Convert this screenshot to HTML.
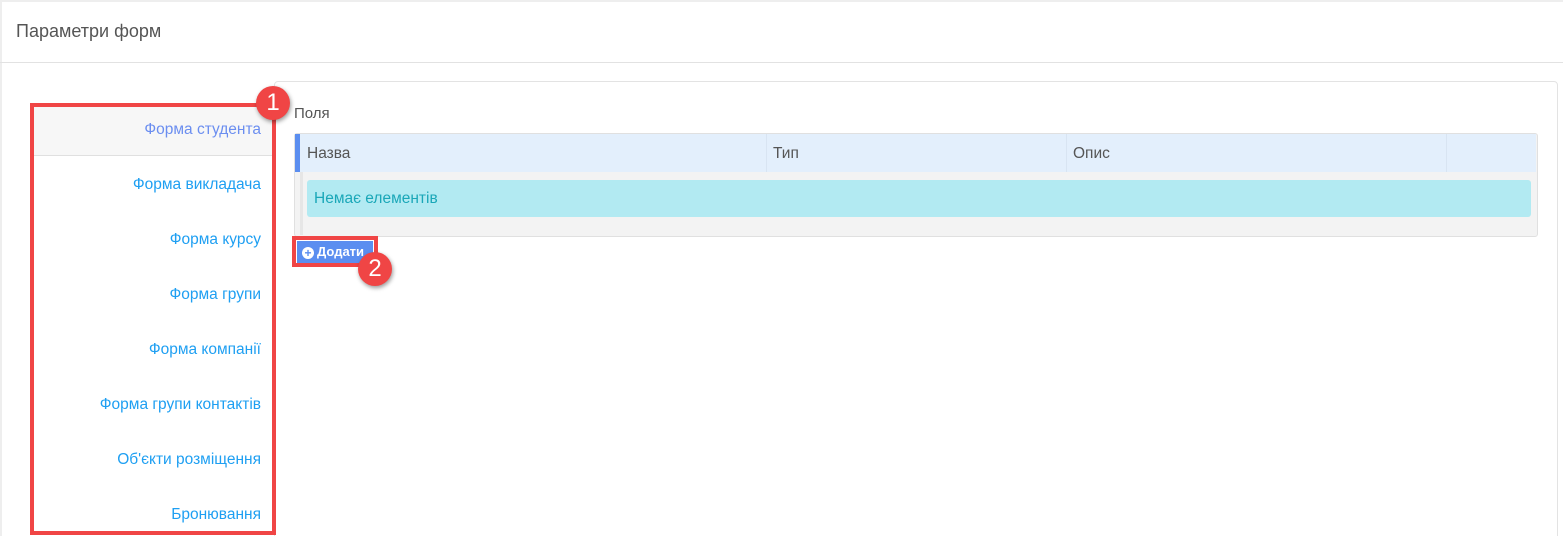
<!DOCTYPE html><html><head><meta charset="utf-8"><style>
html,body{margin:0;width:1563px;height:536px;overflow:hidden}
body{background:#fff;font-family:"Liberation Sans","DejaVu Sans",sans-serif;position:relative}
.a{position:absolute}
.it{position:absolute;right:1302px;font-size:15.5px;color:#1e9ff2;text-align:right;white-space:nowrap}
.badge{position:absolute;width:34px;height:34px;border-radius:50%;background:#f04545;color:#fff;font-size:24px;text-align:center;line-height:34px;box-shadow:1px 2px 4px rgba(0,0,0,.4)}
</style></head><body>
<div class="a" style="left:0;top:0;width:1563px;height:2px;background:#eee"></div>
<div class="a" style="left:0;top:0;width:2px;height:536px;background:#eee"></div>
<div class="a" style="left:16px;top:21px;font-size:18px;color:#555">Параметри форм</div>
<div class="a" style="left:0;top:62px;width:1563px;height:1px;background:#e2e2e2"></div>
<div class="a" style="left:274px;top:81px;width:1282px;height:470px;border:1px solid #e3e3e3;border-radius:4px"></div>
<div class="a" style="left:34px;top:107px;width:240px;height:48px;background:#f7f7f7;border-bottom:1px solid #e0e0e0"></div>
<div class="it" style="top:121px;color:#6b8ef0">Форма студента</div>
<div class="it" style="top:176px">Форма викладача</div>
<div class="it" style="top:231px">Форма курсу</div>
<div class="it" style="top:286px">Форма групи</div>
<div class="it" style="top:341px">Форма компанії</div>
<div class="it" style="top:396px">Форма групи контактів</div>
<div class="it" style="top:451px">Об'єкти розміщення</div>
<div class="it" style="top:506px">Бронювання</div>
<div class="a" style="left:30px;top:103px;width:238px;height:424px;border:4px solid #f04545"></div>
<div class="a" style="left:294px;top:105px;font-size:15px;color:#555">Поля</div>
<div class="a" style="left:294px;top:133px;width:1242px;height:102px;background:#f3f3f3;border:1px solid #e0e0e0;border-radius:3px"></div>
<div class="a" style="left:295px;top:134px;width:1241px;height:38px;background:#e3effc"></div>
<div class="a" style="left:295px;top:134px;width:5px;height:38px;background:#5b8ef0"></div>
<div class="a" style="left:300px;top:172px;width:3px;height:63px;background:#e6e6e6"></div>
<div class="a" style="left:766px;top:134px;width:1px;height:38px;background:#d8e4f2"></div>
<div class="a" style="left:1066px;top:134px;width:1px;height:38px;background:#d8e4f2"></div>
<div class="a" style="left:1446px;top:134px;width:1px;height:38px;background:#d8e4f2"></div>
<div class="a" style="left:307px;top:145px;font-size:15.5px;color:#555">Назва</div>
<div class="a" style="left:773px;top:145px;font-size:15.5px;color:#555">Тип</div>
<div class="a" style="left:1073px;top:145px;font-size:15.5px;color:#555">Опис</div>
<div class="a" style="left:307px;top:180px;width:1224px;height:37px;background:#b2eaf2;border-radius:3px"></div>
<div class="a" style="left:314px;top:190px;font-size:15.5px;color:#1aa7b8">Немає елементів</div>
<div class="a" style="left:292px;top:236px;width:78px;height:23px;border:4px solid #f04545"></div>
<div class="a" style="left:297px;top:241px;width:76px;height:22px;background:#5b8ef0;color:#fff;font-size:13px;font-weight:bold;line-height:22px"><span style="display:inline-block;width:12px;height:12px;border-radius:50%;background:#fff;color:#5b8ef0;text-align:center;line-height:12px;font-size:12px;margin:0 3px 0 5px;vertical-align:-1px">+</span>Додати</div>
<div class="badge" style="left:256px;top:86px">1</div>
<div class="badge" style="left:358px;top:252px">2</div>
</body></html>
